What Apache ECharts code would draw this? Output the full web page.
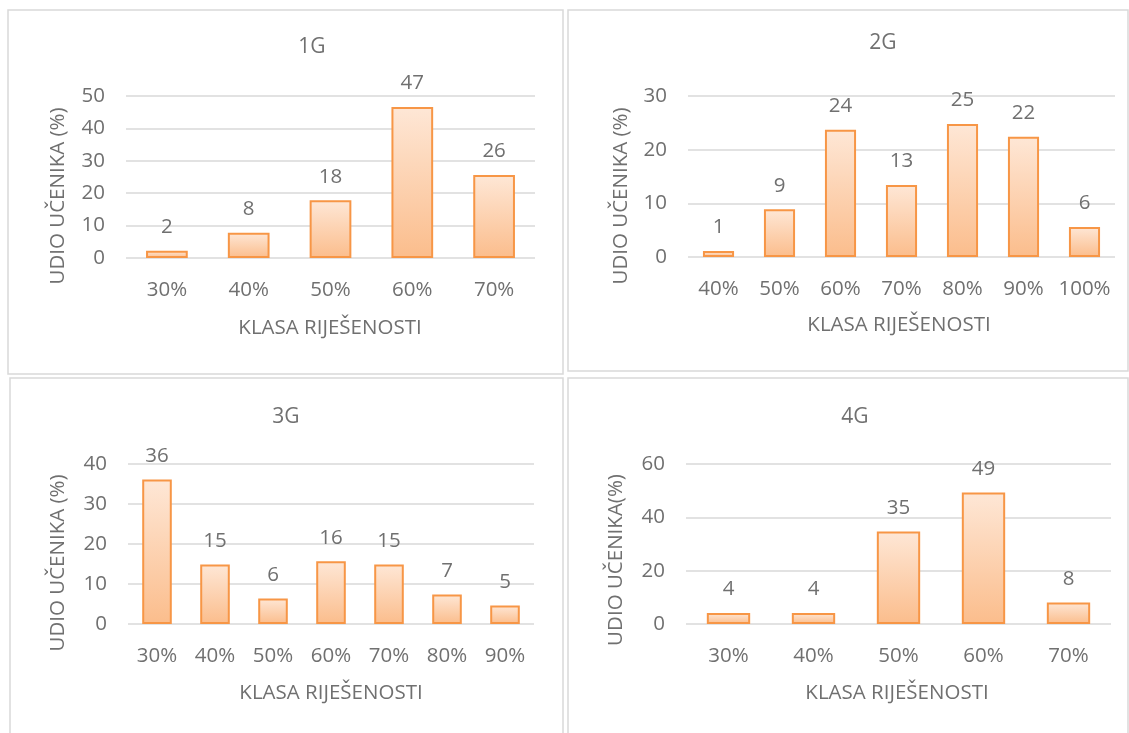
<!DOCTYPE html>
<html>
<head>
<meta charset="utf-8">
<script src="https://cdn.jsdelivr.net/npm/echarts@6/dist/echarts.min.js"></script>
<style>
html,body{margin:0;padding:0;background:#fff;}
#c{width:1129px;height:733px;}
</style>
</head>
<body>
<div id="c"></div>
<script>
// ---- data ----
const titles = ['1G', '2G', '3G', '4G'];
const xName = 'KLASA RIJEŠENOSTI';
const yNames = ['UDIO UČENIKA (%)', 'UDIO UČENIKA (%)', 'UDIO UČENIKA (%)', 'UDIO UČENIKA(%)'];

const cats1G = ['30%', '40%', '50%', '60%', '70%'];
const vals1G = [2.2, 7.8, 17.8, 46.6, 25.6];

const cats2G = ['40%', '50%', '60%', '70%', '80%', '90%', '100%'];
const vals2G = [1.1, 8.9, 23.7, 13.4, 24.8, 22.4, 5.6];

const cats3G = ['30%', '40%', '50%', '60%', '70%', '80%', '90%'];
const vals3G = [36.1, 14.9, 6.4, 15.7, 14.9, 7.4, 4.6];

const cats4G = ['30%', '40%', '50%', '60%', '70%'];
const vals4G = [4.1, 4.1, 34.7, 49.3, 8.1];

const yMax = [50, 30, 40, 60];
const yStep = [10, 10, 10, 20];

// ---- layout ----
const panels = [
  {bx: 8,   by: 10,  bw: 555, bh: 364, grid: {left: 126, top: 96,  width: 409, height: 162}, title: [312, 47],  xn: [330, 328], yn: [58, 196]},
  {bx: 568, by: 10,  bw: 560, bh: 361, grid: {left: 688, top: 96,  width: 427, height: 161}, title: [883, 43],  xn: [899, 325], yn: [621, 196]},
  {bx: 10,  by: 378, bw: 553, bh: 360, grid: {left: 128, top: 464, width: 406, height: 160}, title: [286, 417], xn: [331, 693], yn: [58, 563]},
  {bx: 568, by: 378, bw: 560, bh: 360, grid: {left: 686, top: 464, width: 425, height: 160}, title: [855, 417], xn: [897, 693], yn: [616, 560]}
];

const cats = [cats1G, cats2G, cats3G, cats4G];
const vals = [vals1G, vals2G, vals3G, vals4G];

const TXT = '#707070';
const FONT = '"Open Sans", "Noto Sans", sans-serif';
const FS = 20.5;

const chart = echarts.init(document.getElementById('c'));

const grids = [], xAxes = [], yAxes = [], series = [], graphics = [];

panels.forEach((p, i) => {
  graphics.push({
    type: 'rect', silent: true,
    shape: {x: p.bx, y: p.by, width: p.bw, height: p.bh},
    style: {fill: 'none', stroke: '#d9d9d9', lineWidth: 1.5}
  });
  graphics.push({
    type: 'text', silent: true, x: p.title[0], y: p.title[1],
    style: {text: titles[i], fill: TXT, font: '21px ' + FONT, textAlign: 'center', textVerticalAlign: 'middle'}
  });
  graphics.push({
    type: 'text', silent: true, x: p.xn[0], y: p.xn[1],
    style: {text: xName, fill: TXT, font: FS + 'px ' + FONT, textAlign: 'center', textVerticalAlign: 'middle'}
  });
  graphics.push({
    type: 'text', silent: true, x: p.yn[0], y: p.yn[1], rotation: Math.PI / 2,
    style: {text: yNames[i], fill: TXT, font: FS + 'px ' + FONT, textAlign: 'center', textVerticalAlign: 'middle'}
  });

  grids.push(Object.assign({containLabel: false}, p.grid));
  xAxes.push({
    type: 'category', gridIndex: i, data: cats[i],
    axisLine: {show: false}, axisTick: {show: false},
    axisLabel: {color: TXT, fontSize: FS, fontFamily: FONT, margin: 22, interval: 0}
  });
  yAxes.push({
    type: 'value', gridIndex: i, min: 0, max: yMax[i], interval: yStep[i],
    axisLine: {show: false}, axisTick: {show: false},
    axisLabel: {color: TXT, fontSize: FS, fontFamily: FONT, margin: 21},
    splitLine: {lineStyle: {color: '#d9d9d9', width: 1.5}}
  });
  series.push({
    type: 'bar', xAxisIndex: i, yAxisIndex: i, data: vals[i],
    barCategoryGap: '49%',
    itemStyle: {
      color: new echarts.graphic.LinearGradient(0, 0, 0, 1, [
        {offset: 0, color: '#fee7d6'},
        {offset: 1, color: '#fbbd8c'}
      ]),
      borderColor: '#f79646', borderWidth: 2
    },
    label: {
      show: true, position: 'top', distance: 13,
      color: TXT, fontSize: FS, fontFamily: FONT,
      formatter: (d) => String(Math.round(d.value))
    },
    silent: true, animation: false
  });
});

chart.setOption({
  animation: false,
  grid: grids, xAxis: xAxes, yAxis: yAxes, series: series,
  graphic: graphics
});
</script>
</body>
</html>
